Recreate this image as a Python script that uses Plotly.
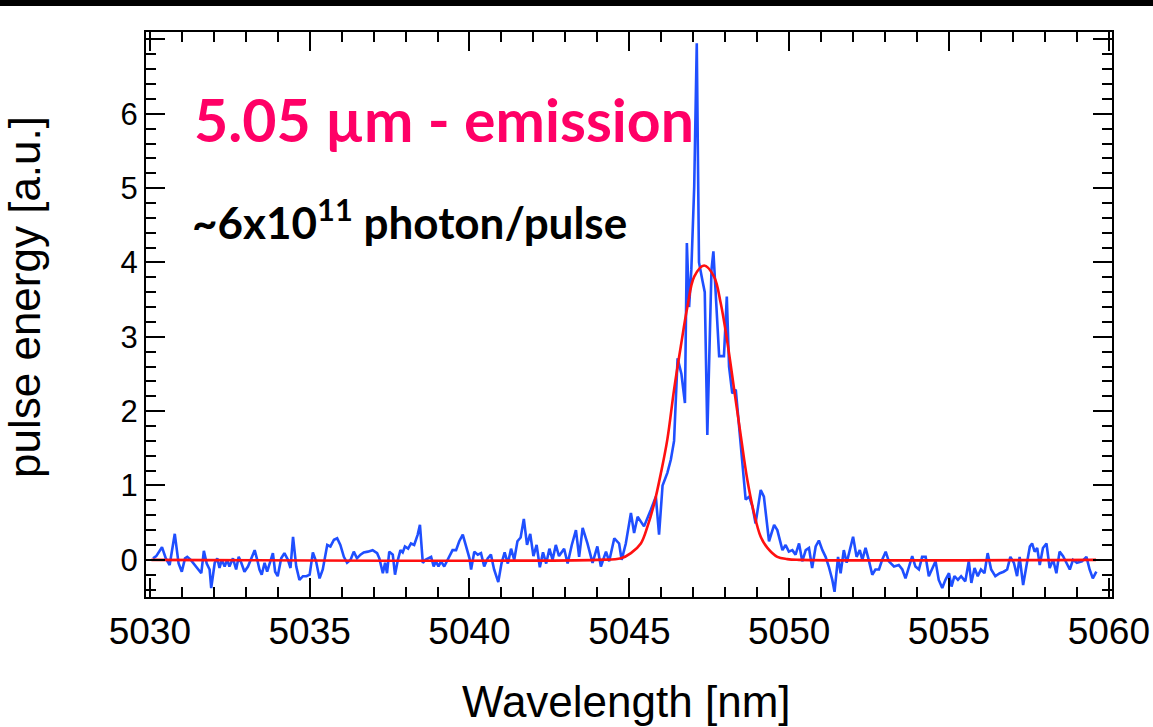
import plotly.graph_objects as go

# ---- measured spectrum (blue) ----
blue_x = [
    5030.10, 5030.20, 5030.38, 5030.50, 5030.62, 5030.78, 5030.90, 5031.00, 5031.10, 5031.17,
    5031.28, 5031.40, 5031.52, 5031.61, 5031.69, 5031.78, 5031.87, 5031.92, 5032.03, 5032.11,
    5032.18, 5032.25, 5032.34, 5032.42, 5032.49, 5032.60, 5032.70, 5032.78, 5032.86, 5032.96,
    5033.07, 5033.17, 5033.28, 5033.36, 5033.43, 5033.50, 5033.59, 5033.67, 5033.74, 5033.85,
    5033.92, 5034.00, 5034.11, 5034.21, 5034.32, 5034.40, 5034.48, 5034.58, 5034.68, 5034.79,
    5034.90, 5035.00, 5035.10, 5035.20, 5035.31, 5035.41, 5035.55, 5035.65, 5035.76, 5035.86,
    5035.96, 5036.07, 5036.17, 5036.28, 5036.38, 5036.48, 5036.59, 5036.69, 5036.82, 5036.97,
    5037.11, 5037.18, 5037.29, 5037.36, 5037.42, 5037.49, 5037.60, 5037.67, 5037.76, 5037.84,
    5037.91, 5037.98, 5038.08, 5038.17, 5038.27, 5038.38, 5038.45, 5038.54, 5038.62, 5038.69,
    5038.80, 5038.88, 5038.95, 5039.03, 5039.11, 5039.21, 5039.29, 5039.37, 5039.47, 5039.58,
    5039.68, 5039.79, 5039.89, 5040.00, 5040.05, 5040.15, 5040.26, 5040.36, 5040.46, 5040.57,
    5040.67, 5040.77, 5040.90, 5041.00, 5041.10, 5041.20, 5041.30, 5041.40, 5041.50, 5041.60,
    5041.70, 5041.80, 5041.90, 5042.00, 5042.10, 5042.20, 5042.30, 5042.40, 5042.50, 5042.60,
    5042.70, 5042.80, 5042.96, 5043.07, 5043.20, 5043.33, 5043.43, 5043.54, 5043.69, 5043.85,
    5044.00, 5044.11, 5044.27, 5044.37, 5044.53, 5044.68, 5044.76, 5044.89, 5045.05, 5045.15,
    5045.26, 5045.46, 5045.67, 5045.83, 5045.93, 5046.04, 5046.19, 5046.30, 5046.40, 5046.51,
    5046.63, 5046.74, 5046.80, 5046.87, 5046.94, 5047.03, 5047.11, 5047.18, 5047.29, 5047.36,
    5047.44, 5047.57, 5047.63, 5047.74, 5047.81, 5047.96, 5048.05, 5048.12, 5048.22, 5048.33,
    5048.43, 5048.54, 5048.64, 5048.75, 5048.85, 5048.95, 5049.11, 5049.21, 5049.37, 5049.53,
    5049.63, 5049.79, 5049.89, 5049.99, 5050.10, 5050.20, 5050.31, 5050.41, 5050.52, 5050.62,
    5050.72, 5050.83, 5050.93, 5051.04, 5051.14, 5051.24, 5051.35, 5051.42, 5051.53, 5051.61,
    5051.71, 5051.80, 5051.90, 5052.00, 5052.11, 5052.21, 5052.29, 5052.39, 5052.49, 5052.60,
    5052.70, 5052.81, 5052.91, 5053.02, 5053.12, 5053.28, 5053.43, 5053.54, 5053.64, 5053.74,
    5053.85, 5053.95, 5054.06, 5054.16, 5054.27, 5054.37, 5054.47, 5054.58, 5054.68, 5054.79,
    5054.89, 5055.00, 5055.08, 5055.17, 5055.28, 5055.38, 5055.51, 5055.62, 5055.70, 5055.80,
    5055.90, 5056.00, 5056.11, 5056.21, 5056.32, 5056.45, 5056.59, 5056.71, 5056.82, 5056.92,
    5057.03, 5057.13, 5057.21, 5057.32, 5057.42, 5057.53, 5057.60, 5057.68, 5057.76, 5057.84,
    5057.94, 5058.05, 5058.15, 5058.26, 5058.36, 5058.46, 5058.57, 5058.67, 5058.78, 5058.88,
    5059.00, 5059.16, 5059.30, 5059.40, 5059.50, 5059.61,
]
blue_y = [
    0.02, 0.05, 0.17, 0.02, -0.07, 0.35, -0.05, -0.16, 0.02, 0.04,
    0.00, -0.07, -0.13, -0.18, 0.12, -0.05, -0.13, -0.38, -0.04, 0.02,
    -0.11, 0.00, -0.09, 0.00, -0.09, 0.02, -0.13, 0.04, -0.04, -0.16,
    -0.09, 0.02, 0.13, 0.00, -0.13, -0.20, -0.04, -0.16, -0.07, 0.09,
    -0.16, -0.22, 0.02, 0.09, 0.00, -0.11, 0.31, -0.09, -0.27, -0.22,
    -0.22, -0.20, 0.10, -0.02, -0.25, -0.13, 0.20, 0.18, 0.27, 0.29,
    0.20, 0.04, -0.04, 0.00, 0.11, 0.02, 0.07, 0.10, 0.11, 0.13,
    0.09, 0.02, -0.18, -0.04, -0.18, 0.11, 0.07, -0.20, 0.00, 0.13,
    0.10, 0.18, 0.15, 0.22, 0.20, 0.34, 0.47, -0.04, 0.00, 0.02,
    0.04, -0.09, -0.02, -0.09, -0.02, -0.09, -0.02, 0.04, 0.13, 0.13,
    0.25, 0.34, 0.18, 0.02, -0.13, 0.11, 0.07, 0.09, -0.09, 0.02,
    0.07, -0.13, -0.30, -0.05, 0.10, -0.05, 0.15, 0.00, 0.25, 0.30,
    0.55, 0.20, 0.35, 0.05, 0.20, -0.10, 0.10, -0.05, 0.15, 0.00,
    0.20, 0.05, 0.15, -0.05, 0.20, 0.40, 0.04, 0.43, 0.22, -0.04,
    0.18, -0.09, 0.11, -0.02, 0.29, 0.22, 0.00, 0.22, 0.63, 0.36,
    0.58, 0.45, 0.67, 0.85, 0.34, 1.00, 1.17, 1.35, 1.60, 2.71,
    2.50, 2.11, 4.26, 3.40, 3.90, 5.02, 6.95, 4.00, 3.75, 3.60,
    1.68, 3.90, 4.15, 3.20, 2.74, 2.74, 3.54, 2.60, 2.24, 2.29,
    1.84, 1.35, 0.81, 0.85, 0.72, 0.49, 0.94, 0.85, 0.25, 0.47,
    0.40, 0.13, 0.20, 0.11, 0.13, 0.07, 0.22, -0.02, 0.13, 0.16,
    -0.11, 0.18, 0.26, 0.13, 0.04, -0.09, -0.27, -0.43, 0.04, -0.18,
    0.13, -0.04, 0.13, 0.31, 0.04, 0.13, 0.00, 0.16, 0.00, -0.20,
    -0.13, -0.13, 0.00, 0.11, -0.02, -0.09, -0.07, -0.13, -0.25, -0.09,
    0.05, -0.09, -0.13, 0.04, 0.04, -0.22, -0.13, -0.02, -0.27, -0.38,
    -0.27, -0.18, -0.36, -0.22, -0.27, -0.22, -0.29, -0.02, -0.31, -0.11,
    -0.22, -0.13, -0.18, 0.09, -0.13, -0.22, -0.18, -0.16, -0.13, 0.04,
    -0.04, -0.22, 0.04, -0.34, -0.09, 0.18, 0.22, 0.11, 0.16, -0.07,
    0.16, 0.22, -0.11, 0.00, -0.18, 0.11, 0.05, -0.04, -0.13, 0.00,
    -0.04, -0.02, 0.04, -0.13, -0.25, -0.16,
]

# ---- fitted curve (red) ----
fit_x = [5030.05, 5044.00, 5044.74, 5045.05, 5045.36, 5045.57, 5045.78, 5045.99, 5046.19,
         5046.40, 5046.61, 5046.82, 5047.03, 5047.34, 5047.65, 5047.86, 5048.07, 5048.28,
         5048.49, 5048.69, 5048.90, 5049.11, 5049.32, 5049.63, 5049.94, 5050.30, 5059.60]
fit_y = [0.00, 0.00, 0.02, 0.09, 0.22, 0.45, 0.76, 1.17, 1.62,
         2.29, 2.87, 3.41, 3.81, 3.96, 3.81, 3.45, 2.92, 2.29,
         1.66, 1.08, 0.63, 0.31, 0.16, 0.04, 0.01, 0.00, 0.00]

x_ticks = [5030, 5035, 5040, 5045, 5050, 5055, 5060]
y_ticks = [0, 1, 2, 3, 4, 5, 6, 7]
y_tick_text = ["0", "1", "2", "3", "4", "5", "6", " "]

fig = go.Figure()
fig.add_trace(go.Scatter(x=blue_x, y=blue_y, mode="lines",
                         line=dict(color="#1f4fff", width=2.6), showlegend=False))
fig.add_trace(go.Scatter(x=fit_x, y=fit_y, mode="lines", line_shape="spline",
                         line=dict(color="#ff1010", width=2.6), showlegend=False))

L, R, T, B = 146, 41, 32, 130
W, H = 1153, 727
pw, ph = W - L - R, H - T - B

def px2paper(px, py):
    return (px - L) / pw, (H - B - py) / ph

axis_common = dict(showline=True, linecolor="black", linewidth=2, mirror="ticks",
                   ticks="inside", tickcolor="black", tickwidth=2,
                   showgrid=False, zeroline=False, automargin=False)

fig.update_xaxes(range=[5029.88, 5060.1], tickvals=x_ticks, ticklen=19,
                 tickfont=dict(family="Liberation Sans", size=37, color="black"),
                 ticklabelstandoff=1,
                 minor=dict(ticks="inside", dtick=1, tick0=5030, ticklen=10,
                            tickcolor="black", tickwidth=2),
                 **axis_common)
fig.update_yaxes(range=[-0.5, 7.1], tickvals=y_ticks, ticktext=y_tick_text, ticklen=19,
                 tickfont=dict(family="Liberation Sans", size=31, color="black"),
                 ticklabelstandoff=0,
                 minor=dict(ticks="inside", dtick=0.2, tick0=0, ticklen=10,
                            tickcolor="black", tickwidth=2),
                 **axis_common)

ax, ay = px2paper(626, 701)
yx, yy = px2paper(24, 297)
px1, py1 = px2paper(192, 119)
px2, py2 = px2paper(190, 219)
bx0, by0 = px2paper(0, 6)
bx1, by1 = px2paper(W, 0)

fig.update_layout(
    width=W, height=H, margin=dict(l=L, r=R, t=T, b=B),
    paper_bgcolor="white", plot_bgcolor="white",
    shapes=[dict(type="rect", xref="paper", yref="paper", x0=bx0, x1=bx1, y0=by0, y1=by1 + 0.02,
                 fillcolor="black", line=dict(width=0), layer="above")],
    annotations=[
        dict(text="Wavelength [nm]", xref="paper", yref="paper", x=ax, y=ay,
             showarrow=False, xanchor="center", yanchor="middle",
             font=dict(family="Liberation Sans", size=44, color="black")),
        dict(text="pulse energy [a.u.]", xref="paper", yref="paper", x=yx, y=yy,
             showarrow=False, textangle=-90, xanchor="center", yanchor="middle",
             font=dict(family="Liberation Sans", size=44, color="black")),
        dict(text="<b>5.05 µm - emission</b>", xref="paper", yref="paper", x=px1, y=py1,
             showarrow=False, xanchor="left", yanchor="middle",
             font=dict(family="Lato", size=59, color="#ff0066")),
        dict(text="<b>~6x10<sup>11</sup> photon/pulse</b>", xref="paper", yref="paper",
             x=px2, y=py2, showarrow=False, xanchor="left", yanchor="middle",
             font=dict(family="Lato", size=44, color="black")),
    ],
)

fig.write_html("out.html", config={"displayModeBar": False},
               post_script="document.body.style.margin='0';document.body.style.overflow='hidden';")
